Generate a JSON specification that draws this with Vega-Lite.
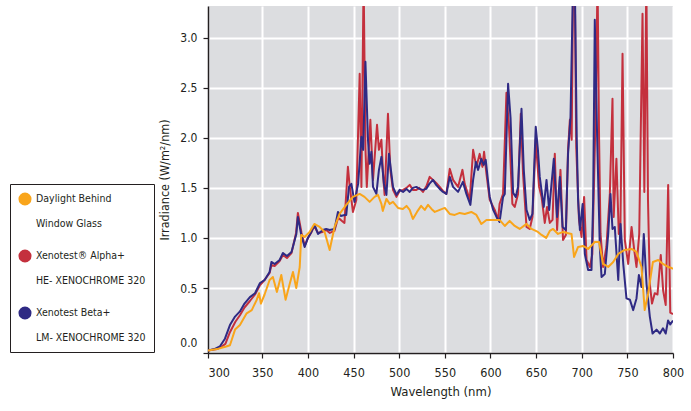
{
  "$schema": "https://vega.github.io/schema/vega-lite/v6.json",
  "width": 465,
  "height": 347,
  "autosize": {"type": "none"},
  "padding": {"left": 208, "top": 6, "right": 18, "bottom": 58},
  "background": "white",
  "config": {
    "view": {"fill": "#dcdde0", "stroke": null},
    "font": "DejaVu Sans Condensed, Roboto, sans-serif",
    "style": {"guide-label": {"lineHeight": 25}},
    "axis": {
      "labelFont": "DejaVu Sans Condensed, Roboto, sans-serif",
      "titleFont": "DejaVu Sans Condensed, Roboto, sans-serif",
      "labelColor": "#231f20",
      "titleColor": "#231f20",
      "titleFontWeight": "normal",
      "domainColor": "#231f20",
      "domainWidth": 1.5,
      "tickColor": "#231f20",
      "tickWidth": 1.2,
      "tickSize": 5,
      "gridColor": "white",
      "gridWidth": 2,
      "gridOpacity": 1
    }
  },
  "data": {"values": [
    {"s":"A","wl":300,"v":0.02},{"s":"A","wl":308.4,"v":0.03},{"s":"A","wl":312.6,"v":0.05},{"s":"A","wl":316,"v":0.07},{"s":"A","wl":320.2,"v":0.16},{"s":"A","wl":325.2,"v":0.24},{"s":"A","wl":329.4,"v":0.29},{"s":"A","wl":333.6,"v":0.35},{"s":"A","wl":338.6,"v":0.40},{"s":"A","wl":343.3,"v":0.45},{"s":"A","wl":347.9,"v":0.53},{"s":"A","wl":352.5,"v":0.58},{"s":"A","wl":358,"v":0.65},{"s":"A","wl":360,"v":0.73},{"s":"A","wl":363.5,"v":0.72},{"s":"A","wl":369,"v":0.77},{"s":"A","wl":372.6,"v":0.83},{"s":"A","wl":377,"v":0.80},{"s":"A","wl":382,"v":0.85},{"s":"A","wl":387,"v":1.05},{"s":"A","wl":389,"v":1.25},{"s":"A","wl":393,"v":1.05},{"s":"A","wl":396.5,"v":0.92},{"s":"A","wl":400,"v":1.0},{"s":"A","wl":404,"v":1.06},{"s":"A","wl":407,"v":1.12},{"s":"A","wl":411,"v":1.05},{"s":"A","wl":416,"v":1.06},{"s":"A","wl":420,"v":1.08},{"s":"A","wl":424,"v":1.05},{"s":"A","wl":429,"v":1.07},{"s":"A","wl":433,"v":1.20},{"s":"A","wl":436,"v":1.18},{"s":"A","wl":440,"v":1.15},{"s":"A","wl":443.8,"v":1.71},{"s":"A","wl":445.5,"v":1.54},{"s":"A","wl":449.3,"v":1.26},{"s":"A","wl":453,"v":1.38},{"s":"A","wl":456.7,"v":2.64},{"s":"A","wl":458.6,"v":1.51},{"s":"A","wl":461,"v":3.6},{"s":"A","wl":463,"v":1.9},{"s":"A","wl":464.5,"v":1.51},{"s":"A","wl":468.4,"v":2.18},{"s":"A","wl":471.3,"v":1.58},{"s":"A","wl":475.7,"v":2.13},{"s":"A","wl":477.8,"v":1.88},{"s":"A","wl":480.5,"v":1.98},{"s":"A","wl":482.3,"v":1.64},{"s":"A","wl":484,"v":1.43},{"s":"A","wl":487.7,"v":2.24},{"s":"A","wl":490.3,"v":1.68},{"s":"A","wl":493.2,"v":1.48},{"s":"A","wl":497,"v":1.41},{"s":"A","wl":500.5,"v":1.47},{"s":"A","wl":504.2,"v":1.48},{"s":"A","wl":508,"v":1.50},{"s":"A","wl":511.5,"v":1.53},{"s":"A","wl":515,"v":1.48},{"s":"A","wl":518.8,"v":1.48},{"s":"A","wl":522,"v":1.50},{"s":"A","wl":526,"v":1.46},{"s":"A","wl":530,"v":1.52},{"s":"A","wl":533.4,"v":1.61},{"s":"A","wl":537,"v":1.58},{"s":"A","wl":540.5,"v":1.55},{"s":"A","wl":544.4,"v":1.51},{"s":"A","wl":548,"v":1.47},{"s":"A","wl":551.7,"v":1.44},{"s":"A","wl":555.4,"v":1.69},{"s":"A","wl":559,"v":1.58},{"s":"A","wl":564.5,"v":1.51},{"s":"A","wl":569.3,"v":1.68},{"s":"A","wl":571.8,"v":1.54},{"s":"A","wl":577.3,"v":1.38},{"s":"A","wl":581,"v":1.88},{"s":"A","wl":584.6,"v":1.71},{"s":"A","wl":588.2,"v":1.84},{"s":"A","wl":591.2,"v":1.71},{"s":"A","wl":593,"v":1.86},{"s":"A","wl":595.6,"v":1.64},{"s":"A","wl":599.2,"v":1.38},{"s":"A","wl":604.7,"v":1.28},{"s":"A","wl":608.3,"v":1.18},{"s":"A","wl":610,"v":1.34},{"s":"A","wl":613.8,"v":1.44},{"s":"A","wl":617.5,"v":2.45},{"s":"A","wl":620.3,"v":2.11},{"s":"A","wl":624,"v":1.34},{"s":"A","wl":626.6,"v":1.31},{"s":"A","wl":630.2,"v":1.44},{"s":"A","wl":633.2,"v":2.24},{"s":"A","wl":635.7,"v":1.64},{"s":"A","wl":639.5,"v":1.11},{"s":"A","wl":643,"v":1.09},{"s":"A","wl":646,"v":1.21},{"s":"A","wl":649.6,"v":1.98},{"s":"A","wl":653.3,"v":1.51},{"s":"A","wl":656,"v":1.41},{"s":"A","wl":659.5,"v":1.15},{"s":"A","wl":662,"v":1.31},{"s":"A","wl":665,"v":1.15},{"s":"A","wl":668,"v":1.18},{"s":"A","wl":670.5,"v":1.84},{"s":"A","wl":673,"v":1.08},{"s":"A","wl":676.7,"v":1.68},{"s":"A","wl":679.5,"v":0.98},{"s":"A","wl":682.6,"v":1.03},{"s":"A","wl":685,"v":1.88},{"s":"A","wl":687,"v":2.18},{"s":"A","wl":689,"v":1.98},{"s":"A","wl":690.6,"v":3.6},{"s":"A","wl":692.3,"v":3.6},{"s":"A","wl":694,"v":1.9},{"s":"A","wl":697,"v":1.18},{"s":"A","wl":699.8,"v":1.01},{"s":"A","wl":702.6,"v":1.41},{"s":"A","wl":705.3,"v":0.78},{"s":"A","wl":709,"v":0.71},{"s":"A","wl":711.6,"v":0.84},{"s":"A","wl":715.6,"v":2.38},{"s":"A","wl":717.3,"v":3.6},{"s":"A","wl":719,"v":2.0},{"s":"A","wl":720.6,"v":1.04},{"s":"A","wl":723.4,"v":0.71},{"s":"A","wl":727,"v":0.91},{"s":"A","wl":730.8,"v":1.44},{"s":"A","wl":733.7,"v":2.39},{"s":"A","wl":735,"v":1.21},{"s":"A","wl":738,"v":1.79},{"s":"A","wl":740.6,"v":1.04},{"s":"A","wl":742.3,"v":1.05},{"s":"A","wl":744.7,"v":2.84},{"s":"A","wl":747.2,"v":0.98},{"s":"A","wl":750.9,"v":0.74},{"s":"A","wl":754.6,"v":1.11},{"s":"A","wl":757.5,"v":0.88},{"s":"A","wl":760,"v":0.71},{"s":"A","wl":763,"v":1.04},{"s":"A","wl":766.6,"v":3.24},{"s":"A","wl":768.6,"v":1.46},{"s":"A","wl":770.8,"v":3.6},{"s":"A","wl":772.6,"v":1.38},{"s":"A","wl":774.6,"v":0.54},{"s":"A","wl":777,"v":0.38},{"s":"A","wl":780,"v":0.46},{"s":"A","wl":783,"v":0.45},{"s":"A","wl":786.6,"v":0.83},{"s":"A","wl":789.2,"v":0.48},{"s":"A","wl":792,"v":0.37},{"s":"A","wl":794.7,"v":1.53},{"s":"A","wl":797,"v":0.31},{"s":"A","wl":800,"v":0.30},
    {"s":"B","wl":300,"v":0.02},{"s":"B","wl":305.9,"v":0.03},{"s":"B","wl":310.9,"v":0.05},{"s":"B","wl":315.6,"v":0.11},{"s":"B","wl":320.2,"v":0.215},{"s":"B","wl":324.9,"v":0.28},{"s":"B","wl":329.4,"v":0.32},{"s":"B","wl":333.6,"v":0.38},{"s":"B","wl":338.6,"v":0.43},{"s":"B","wl":343.3,"v":0.46},{"s":"B","wl":347.9,"v":0.55},{"s":"B","wl":352.5,"v":0.58},{"s":"B","wl":358,"v":0.66},{"s":"B","wl":360,"v":0.76},{"s":"B","wl":363.5,"v":0.74},{"s":"B","wl":369,"v":0.78},{"s":"B","wl":372.6,"v":0.85},{"s":"B","wl":377,"v":0.82},{"s":"B","wl":382,"v":0.86},{"s":"B","wl":387.3,"v":1.04},{"s":"B","wl":389,"v":1.21},{"s":"B","wl":392.7,"v":1.03},{"s":"B","wl":396.4,"v":0.91},{"s":"B","wl":400,"v":1.0},{"s":"B","wl":403.7,"v":1.06},{"s":"B","wl":407.3,"v":1.13},{"s":"B","wl":411,"v":1.04},{"s":"B","wl":416.4,"v":1.08},{"s":"B","wl":420,"v":1.09},{"s":"B","wl":423.8,"v":1.08},{"s":"B","wl":429.2,"v":1.09},{"s":"B","wl":432.9,"v":1.26},{"s":"B","wl":436,"v":1.22},{"s":"B","wl":440.2,"v":1.23},{"s":"B","wl":442,"v":1.23},{"s":"B","wl":445,"v":1.51},{"s":"B","wl":447.6,"v":1.54},{"s":"B","wl":451,"v":1.36},{"s":"B","wl":455,"v":1.54},{"s":"B","wl":458.6,"v":2.01},{"s":"B","wl":460.5,"v":1.88},{"s":"B","wl":463,"v":2.76},{"s":"B","wl":465.8,"v":1.98},{"s":"B","wl":467.6,"v":1.74},{"s":"B","wl":469.5,"v":1.86},{"s":"B","wl":471.3,"v":1.51},{"s":"B","wl":475,"v":1.44},{"s":"B","wl":477.8,"v":1.68},{"s":"B","wl":480.5,"v":1.81},{"s":"B","wl":483.3,"v":1.54},{"s":"B","wl":486,"v":1.43},{"s":"B","wl":488.8,"v":1.84},{"s":"B","wl":493.2,"v":1.51},{"s":"B","wl":497,"v":1.43},{"s":"B","wl":500.5,"v":1.48},{"s":"B","wl":504.2,"v":1.46},{"s":"B","wl":508,"v":1.49},{"s":"B","wl":511.5,"v":1.46},{"s":"B","wl":515,"v":1.50},{"s":"B","wl":518.8,"v":1.51},{"s":"B","wl":522,"v":1.49},{"s":"B","wl":526,"v":1.48},{"s":"B","wl":529.6,"v":1.49},{"s":"B","wl":533,"v":1.54},{"s":"B","wl":537,"v":1.58},{"s":"B","wl":540.5,"v":1.53},{"s":"B","wl":544.4,"v":1.49},{"s":"B","wl":548,"v":1.46},{"s":"B","wl":551.7,"v":1.44},{"s":"B","wl":555.4,"v":1.61},{"s":"B","wl":559,"v":1.51},{"s":"B","wl":564.5,"v":1.46},{"s":"B","wl":569.8,"v":1.56},{"s":"B","wl":573.6,"v":1.44},{"s":"B","wl":578,"v":1.33},{"s":"B","wl":581,"v":1.58},{"s":"B","wl":584,"v":1.76},{"s":"B","wl":586.4,"v":1.68},{"s":"B","wl":590,"v":1.79},{"s":"B","wl":592.6,"v":1.73},{"s":"B","wl":594.8,"v":1.78},{"s":"B","wl":599.2,"v":1.41},{"s":"B","wl":603,"v":1.28},{"s":"B","wl":606.6,"v":1.21},{"s":"B","wl":610,"v":1.16},{"s":"B","wl":613.8,"v":1.41},{"s":"B","wl":615.7,"v":1.44},{"s":"B","wl":619.3,"v":2.54},{"s":"B","wl":622,"v":2.2},{"s":"B","wl":624.8,"v":1.45},{"s":"B","wl":627.7,"v":1.41},{"s":"B","wl":630.2,"v":1.51},{"s":"B","wl":632,"v":1.88},{"s":"B","wl":634,"v":2.29},{"s":"B","wl":636.5,"v":1.68},{"s":"B","wl":639.5,"v":1.28},{"s":"B","wl":643,"v":1.18},{"s":"B","wl":646,"v":1.24},{"s":"B","wl":649.6,"v":2.11},{"s":"B","wl":652,"v":1.88},{"s":"B","wl":654,"v":1.61},{"s":"B","wl":658.4,"v":1.31},{"s":"B","wl":661.4,"v":1.58},{"s":"B","wl":664.3,"v":1.28},{"s":"B","wl":669.4,"v":1.79},{"s":"B","wl":673,"v":1.21},{"s":"B","wl":676,"v":1.61},{"s":"B","wl":679,"v":1.11},{"s":"B","wl":682.6,"v":1.08},{"s":"B","wl":685,"v":1.84},{"s":"B","wl":687.7,"v":2.21},{"s":"B","wl":690.6,"v":3.6},{"s":"B","wl":692.4,"v":3.6},{"s":"B","wl":694.5,"v":2.0},{"s":"B","wl":696,"v":1.38},{"s":"B","wl":698,"v":1.08},{"s":"B","wl":701,"v":1.34},{"s":"B","wl":703.4,"v":0.84},{"s":"B","wl":707,"v":0.68},{"s":"B","wl":710.7,"v":0.68},{"s":"B","wl":712.5,"v":1.38},{"s":"B","wl":714.3,"v":3.18},{"s":"B","wl":716.8,"v":2.04},{"s":"B","wl":719.8,"v":0.91},{"s":"B","wl":721.7,"v":0.61},{"s":"B","wl":725.3,"v":0.64},{"s":"B","wl":729,"v":1.04},{"s":"B","wl":731.5,"v":1.44},{"s":"B","wl":733.7,"v":1.09},{"s":"B","wl":736.2,"v":1.11},{"s":"B","wl":740,"v":0.58},{"s":"B","wl":742.5,"v":1.14},{"s":"B","wl":745.5,"v":0.74},{"s":"B","wl":749,"v":0.42},{"s":"B","wl":752.8,"v":0.41},{"s":"B","wl":756.4,"v":0.33},{"s":"B","wl":760,"v":0.42},{"s":"B","wl":762.6,"v":0.63},{"s":"B","wl":765.5,"v":0.51},{"s":"B","wl":768,"v":1.04},{"s":"B","wl":771,"v":0.54},{"s":"B","wl":774.6,"v":0.28},{"s":"B","wl":777.6,"v":0.15},{"s":"B","wl":782,"v":0.18},{"s":"B","wl":785.6,"v":0.15},{"s":"B","wl":789,"v":0.19},{"s":"B","wl":792,"v":0.15},{"s":"B","wl":794.6,"v":0.25},{"s":"B","wl":797,"v":0.22},{"s":"B","wl":800,"v":0.25},
    {"s":"D","wl":300,"v":0.02},{"s":"D","wl":308.4,"v":0.03},{"s":"D","wl":312.6,"v":0.04},{"s":"D","wl":316.8,"v":0.05},{"s":"D","wl":320.2,"v":0.06},{"s":"D","wl":321.8,"v":0.10},{"s":"D","wl":324.9,"v":0.18},{"s":"D","wl":329.4,"v":0.215},{"s":"D","wl":335.6,"v":0.305},{"s":"D","wl":340.3,"v":0.33},{"s":"D","wl":344.9,"v":0.41},{"s":"D","wl":347,"v":0.46},{"s":"D","wl":348.7,"v":0.38},{"s":"D","wl":352.5,"v":0.45},{"s":"D","wl":358,"v":0.58},{"s":"D","wl":361.6,"v":0.61},{"s":"D","wl":366,"v":0.47},{"s":"D","wl":370.8,"v":0.63},{"s":"D","wl":375.5,"v":0.41},{"s":"D","wl":380,"v":0.54},{"s":"D","wl":383.6,"v":0.66},{"s":"D","wl":387.2,"v":0.50},{"s":"D","wl":391,"v":0.71},{"s":"D","wl":392.7,"v":1.03},{"s":"D","wl":396.4,"v":1.01},{"s":"D","wl":401.8,"v":1.06},{"s":"D","wl":407,"v":1.14},{"s":"D","wl":412.8,"v":1.11},{"s":"D","wl":418.3,"v":1.06},{"s":"D","wl":423.8,"v":0.88},{"s":"D","wl":429.2,"v":1.11},{"s":"D","wl":434.7,"v":1.24},{"s":"D","wl":442,"v":1.33},{"s":"D","wl":449.3,"v":1.41},{"s":"D","wl":456.7,"v":1.44},{"s":"D","wl":462,"v":1.41},{"s":"D","wl":467.6,"v":1.36},{"s":"D","wl":473,"v":1.41},{"s":"D","wl":476.7,"v":1.43},{"s":"D","wl":480.5,"v":1.34},{"s":"D","wl":482,"v":1.27},{"s":"D","wl":486,"v":1.39},{"s":"D","wl":489.6,"v":1.34},{"s":"D","wl":493.2,"v":1.36},{"s":"D","wl":498.7,"v":1.30},{"s":"D","wl":504,"v":1.29},{"s":"D","wl":508,"v":1.32},{"s":"D","wl":511.5,"v":1.28},{"s":"D","wl":515,"v":1.19},{"s":"D","wl":519.5,"v":1.26},{"s":"D","wl":524,"v":1.32},{"s":"D","wl":528,"v":1.28},{"s":"D","wl":531.6,"v":1.33},{"s":"D","wl":535.4,"v":1.29},{"s":"D","wl":539,"v":1.26},{"s":"D","wl":544.4,"v":1.28},{"s":"D","wl":550,"v":1.30},{"s":"D","wl":555.4,"v":1.24},{"s":"D","wl":560.8,"v":1.23},{"s":"D","wl":566.3,"v":1.25},{"s":"D","wl":571.8,"v":1.24},{"s":"D","wl":579,"v":1.26},{"s":"D","wl":584.6,"v":1.23},{"s":"D","wl":590,"v":1.14},{"s":"D","wl":595.6,"v":1.18},{"s":"D","wl":601,"v":1.18},{"s":"D","wl":606.6,"v":1.18},{"s":"D","wl":610,"v":1.18},{"s":"D","wl":615.7,"v":1.12},{"s":"D","wl":621,"v":1.17},{"s":"D","wl":626.6,"v":1.12},{"s":"D","wl":632,"v":1.09},{"s":"D","wl":639.5,"v":1.14},{"s":"D","wl":645,"v":1.09},{"s":"D","wl":652,"v":1.06},{"s":"D","wl":656,"v":1.03},{"s":"D","wl":661,"v":1.0},{"s":"D","wl":665,"v":1.07},{"s":"D","wl":668.6,"v":1.09},{"s":"D","wl":674,"v":1.04},{"s":"D","wl":679.6,"v":1.06},{"s":"D","wl":684,"v":1.05},{"s":"D","wl":688.8,"v":1.04},{"s":"D","wl":691.6,"v":0.81},{"s":"D","wl":696,"v":0.91},{"s":"D","wl":701.5,"v":0.92},{"s":"D","wl":707,"v":0.89},{"s":"D","wl":714.3,"v":0.96},{"s":"D","wl":719,"v":0.96},{"s":"D","wl":723.4,"v":0.74},{"s":"D","wl":729,"v":0.71},{"s":"D","wl":734.5,"v":0.76},{"s":"D","wl":740,"v":0.84},{"s":"D","wl":747,"v":0.88},{"s":"D","wl":754.6,"v":0.89},{"s":"D","wl":760,"v":0.86},{"s":"D","wl":765.5,"v":0.71},{"s":"D","wl":769,"v":0.33},{"s":"D","wl":772.8,"v":0.46},{"s":"D","wl":778,"v":0.76},{"s":"D","wl":783.8,"v":0.78},{"s":"D","wl":789,"v":0.74},{"s":"D","wl":794.6,"v":0.71},{"s":"D","wl":798.5,"v":0.70},{"s":"D","wl":800,"v":0.69}
  ]},
  "mark": {"type": "line", "strokeWidth": 2, "clip": true, "strokeJoin": "round"},
  "encoding": {
    "x": {
      "field": "wl", "type": "quantitative",
      "scale": {"domain": [300, 350, 800], "range": [0, 54.3, 465], "nice": false, "zero": false},
      "axis": {
        "title": "Wavelength (nm)",
        "values": [300, 350, 400, 450, 500, 550, 600, 650, 700, 750, 800],
        "labelFontSize": 12.5,
        "labelPadding": 8,
        "labelAlign": {"condition": {"test": "datum.value == 300", "value": "left"}, "value": "center"},
        "titleFontSize": 13,
        "titlePadding": 7
      }
    },
    "y": {
      "field": "v", "type": "quantitative",
      "scale": {"domain": [0, 0.5, 3.317], "range": [347, 282, 0], "nice": false, "zero": false},
      "axis": {
        "title": "Irradiance (W/m²/nm)",
        "values": [0, 0.5, 1, 1.5, 2, 2.5, 3],
        "format": ".1f",
        "labelFontSize": 12,
        "labelPadding": 6,
        "labelBaseline": {"condition": {"test": "datum.value == 0", "value": "bottom"}, "value": "middle"},
        "labelOffset": {"condition": {"test": "datum.value == 0", "value": -4}, "value": 0},
        "titleFontSize": 12.5,
        "titlePadding": 8
      }
    },
    "color": {
      "field": "s", "type": "nominal",
      "scale": {"domain": ["D", "A", "B"], "range": ["#f9a51b", "#c4303d", "#2f2a84"]},
      "legend": {
        "orient": "none",
        "legendX": -198,
        "legendY": 178,
        "title": null,
        "symbolType": "circle",
        "symbolSize": 170,
        "symbolStrokeWidth": 0,
        "symbolOpacity": 1,
        "labelFont": "DejaVu Sans Condensed, Roboto, sans-serif",
        "labelFontSize": 10.5,
        "labelColor": "#231f20",
        "labelLimit": 200,
        "labelOffset": 4,
        "labelBaseline": "middle",
        "labelExpr": "datum.value == 'D' ? ['Daylight Behind', 'Window Glass'] : datum.value == 'A' ? ['Xenotest® Alpha+', 'HE- XENOCHROME 320'] : ['Xenotest Beta+', 'LM- XENOCHROME 320']",
        "rowPadding": 19,
        "padding": 8,
        "strokeColor": "#231f20",
        "fillColor": "white",
        "encode": {"symbols": {"update": {"fill": {"scale": "color", "field": "value"}, "strokeWidth": {"value": 0}}}}
      }
    }
  }
}
